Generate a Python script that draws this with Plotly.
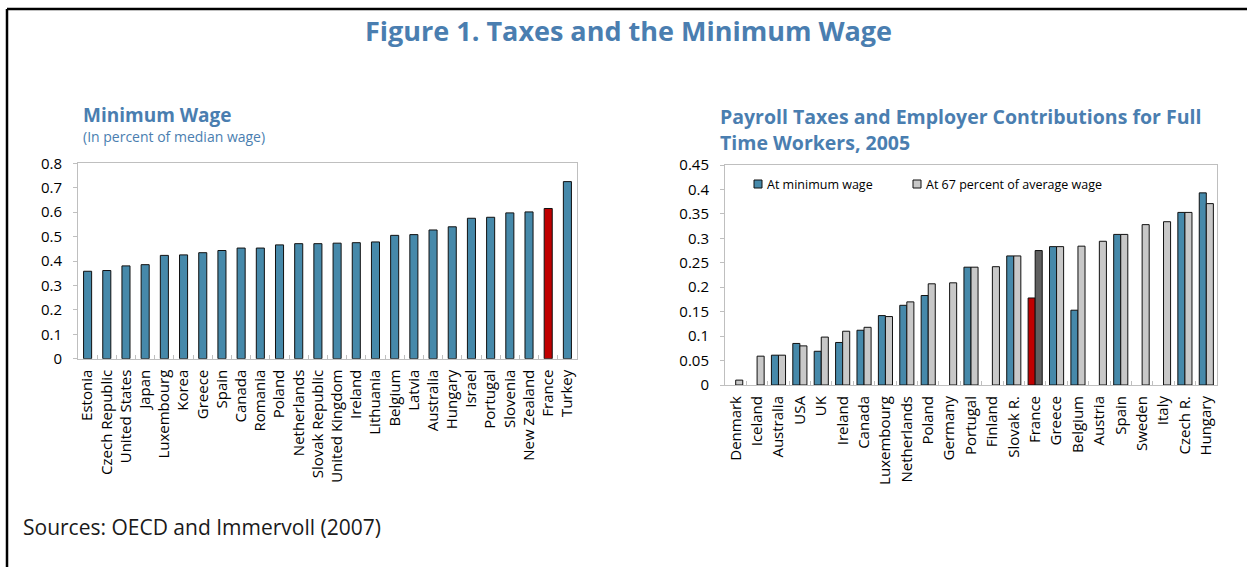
import plotly.graph_objects as go

# Minimum wage relative to the median wage
mw_countries = ["Estonia", "Czech Republic", "United States", "Japan", "Luxembourg", "Korea",
                "Greece", "Spain", "Canada", "Romania", "Poland", "Netherlands",
                "Slovak Republic", "United Kingdom", "Ireland", "Lithuania", "Belgium", "Latvia",
                "Australia", "Hungary", "Israel", "Portugal", "Slovenia", "New Zealand",
                "France", "Turkey"]
mw_values = [0.358, 0.361, 0.380, 0.385, 0.423, 0.425, 0.434, 0.443, 0.453, 0.453, 0.466, 0.471,
             0.471, 0.473, 0.475, 0.478, 0.505, 0.508, 0.527, 0.540, 0.575, 0.579, 0.597, 0.601,
             0.615, 0.725]

# Payroll taxes and employer contributions, 2005
pt_countries = ["Denmark", "Iceland", "Australia", "USA", "UK", "Ireland", "Canada", "Luxembourg",
                "Netherlands", "Poland", "Germany", "Portugal", "Finland", "Slovak R.", "France",
                "Greece", "Belgium", "Austria", "Spain", "Sweden", "Italy", "Czech R.", "Hungary"]
pt_min_wage = [None, None, 0.061, 0.085, 0.069, 0.087, 0.112, 0.142, 0.163, 0.183, None, 0.241,
               None, 0.264, 0.178, 0.283, 0.153, None, 0.308, None, None, 0.353, 0.393]
pt_avg_wage = [0.010, 0.059, 0.061, 0.080, 0.098, 0.110, 0.118, 0.140, 0.170, 0.207, 0.209, 0.241,
               0.242, 0.264, 0.275, 0.283, 0.284, 0.294, 0.308, 0.328, 0.334, 0.353, 0.371]
legend_labels = ["At minimum wage", "At 67 percent of average wage"]

y_ticks_left = [0, 0.1, 0.2, 0.3, 0.4, 0.5, 0.6, 0.7, 0.8]
y_ticks_right = [0, 0.05, 0.1, 0.15, 0.2, 0.25, 0.3, 0.35, 0.4, 0.45]

BLUE = "#4689AA"
RED = "#C00000"
LIGHT_GRAY = "#C8C8C8"
DARK_GRAY = "#5F5F5F"
TITLE_BLUE = "#4A7EB0"
FRAME_GRAY = "#BFBFBF"
FONT = "Segoe UI, Open Sans, Noto Sans, sans-serif"
W, H = 1247, 567


def px_x(x):
    return x / W


def px_y(y):
    return 1 - y / H


highlight = "France"
mw_colors = [RED if c == highlight else BLUE for c in mw_countries]
min_colors = [RED if c == highlight else BLUE for c in pt_countries]
avg_colors = [DARK_GRAY if c == highlight else LIGHT_GRAY for c in pt_countries]
outline = dict(color="#111", width=1)

fig = go.Figure()

fig.add_trace(go.Bar(
    x=mw_countries, y=mw_values, marker=dict(color=mw_colors, line=outline),
    width=0.42, offset=-0.21, xaxis="x", yaxis="y", showlegend=False,
))
fig.add_trace(go.Bar(
    x=pt_countries, y=pt_min_wage, name=legend_labels[0],
    marker=dict(color=min_colors, line=outline),
    width=0.33, offset=-0.33, xaxis="x2", yaxis="y2", showlegend=False,
))
fig.add_trace(go.Bar(
    x=pt_countries, y=pt_avg_wage, name=legend_labels[1],
    marker=dict(color=avg_colors, line=outline),
    width=0.33, offset=0.0, xaxis="x2", yaxis="y2", showlegend=False,
))

axis_common = dict(showline=True, linecolor=FRAME_GRAY, linewidth=1, mirror=True,
                   showgrid=False, zeroline=False, tickfont=dict(size=15, color="#000"))
x_common = dict(type="category", tickangle=-90, ticks="inside", tickson="boundaries",
                ticklen=4, tickcolor=FRAME_GRAY, ticklabelstandoff=4, **axis_common)
y_common = dict(ticks="outside", ticklen=4, tickcolor=FRAME_GRAY, ticklabelstandoff=8,
                **axis_common)

fig.update_layout(
    width=W, height=H,
    margin=dict(l=0, r=0, t=0, b=0, autoexpand=False),
    paper_bgcolor="white", plot_bgcolor="white",
    font=dict(family=FONT, color="#000"),
    showlegend=False,
    xaxis=dict(domain=[px_x(78), px_x(577)], anchor="y", **x_common),
    yaxis=dict(domain=[px_y(358.7), px_y(163.3)], anchor="x", range=[0, 0.8],
               tickvals=y_ticks_left, ticktext=[f"{v:g}" for v in y_ticks_left], **y_common),
    xaxis2=dict(domain=[px_x(725), px_x(1217)], anchor="y2", **x_common),
    yaxis2=dict(domain=[px_y(385), px_y(165)], anchor="x2", range=[0, 0.45],
                tickvals=y_ticks_right, ticktext=[f"{v:g}" for v in y_ticks_right], **y_common),
)

# Outer frame of the figure
fig.add_shape(type="line", xref="paper", yref="paper", x0=px_x(7), x1=1.01, y0=px_y(9), y1=px_y(9),
              line=dict(color="#000", width=2.5))
fig.add_shape(type="line", xref="paper", yref="paper", x0=px_x(7), x1=px_x(7), y0=px_y(9), y1=-0.01,
              line=dict(color="#000", width=2.5))

# Legend of the payroll-tax panel: swatch followed by its label
legend_items = [(754, BLUE, legend_labels[0]), (913, LIGHT_GRAY, legend_labels[1])]
for x0, color, label in legend_items:
    fig.add_shape(type="rect", xref="paper", yref="paper",
                  x0=px_x(x0), x1=px_x(x0 + 8), y0=px_y(188), y1=px_y(180),
                  fillcolor=color, line=dict(color="#111", width=1))
    fig.add_annotation(xref="paper", yref="paper", showarrow=False, text=label,
                       x=px_x(x0 + 11), y=px_y(184), xanchor="left", yanchor="middle",
                       font=dict(size=12.5, color="#000"))

annotations = [
    dict(text="<b>Figure 1. Taxes and the Minimum Wage</b>", x=px_x(628), y=px_y(30),
         font=dict(size=27, color=TITLE_BLUE)),
    dict(text="<b>Minimum Wage</b>", x=px_x(81), y=px_y(115), xanchor="left",
         font=dict(size=19, color=TITLE_BLUE)),
    dict(text="(In percent of median wage)", x=px_x(81), y=px_y(136), xanchor="left",
         font=dict(size=14, color=TITLE_BLUE)),
    dict(text="<b>Payroll Taxes and Employer Contributions for Full</b>", x=px_x(718), y=px_y(116),
         xanchor="left", font=dict(size=19.5, color=TITLE_BLUE)),
    dict(text="<b>Time Workers, 2005</b>", x=px_x(718), y=px_y(142),
         xanchor="left", font=dict(size=19.5, color=TITLE_BLUE)),
    dict(text="Sources: OECD and Immervoll (2007)", x=px_x(21), y=px_y(527), xanchor="left",
         font=dict(size=21, color="#1A1A1A")),
]
for a in annotations:
    a.setdefault("xanchor", "center")
    fig.add_annotation(xref="paper", yref="paper", showarrow=False, yanchor="middle", **a)

fig.write_html("out.html")
